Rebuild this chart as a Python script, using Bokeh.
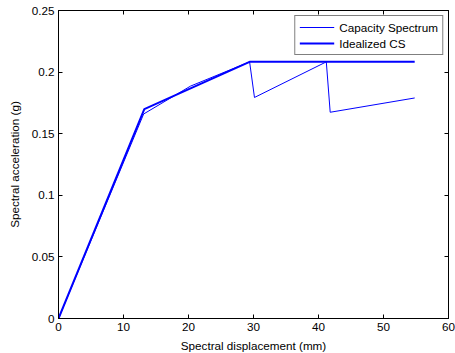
from bokeh.plotting import figure
from bokeh.models import LinearAxis, FixedTicker, Range1d, Legend, LegendItem, CustomJSTickFormatter
from bokeh.embed import file_html
from bokeh.resources import INLINE

cs_x = [0, 13.1, 20.3, 29.4, 30.15, 41.2, 41.8, 54.8]
cs_y = [0, 0.166, 0.1886, 0.2083, 0.1794, 0.2083, 0.1674, 0.179]
id_x = [0, 13.2, 29.4, 54.8]
id_y = [0, 0.170, 0.2083, 0.2083]

x_ticks = [0, 10, 20, 30, 40, 50, 60]
y_ticks = [0, 0.05, 0.1, 0.15, 0.2, 0.25]
y_tick_labels = ["0", "0.05", "0.1", "0.15", "0.2", "0.25"]

FONT = "Liberation Sans"
FS = "11.7px"

p = figure(width=455, height=353, frame_width=390, frame_height=308,
           output_backend="svg", toolbar_location=None,
           x_range=Range1d(0, 60), y_range=Range1d(0, 0.25),
           x_axis_label="Spectral displacement (mm)",
           y_axis_label="Spectral acceleration (g)",
           min_border_left=58, min_border_right=7, min_border_top=10, min_border_bottom=35)
p.xgrid.visible = False
p.ygrid.visible = False
p.outline_line_color = "black"
p.outline_line_width = 1

r1 = p.line(cs_x, cs_y, line_color="#0000FF", line_width=1)
r2 = p.line(id_x, id_y, line_color="#0000FF", line_width=2)

for ax in (p.xaxis[0], p.yaxis[0]):
    ax.major_tick_in = 4
    ax.major_tick_out = 0
    ax.minor_tick_in = 0
    ax.minor_tick_out = 0
    ax.axis_line_color = "black"
    ax.major_label_text_font = FONT
    ax.major_label_text_font_size = FS
    ax.major_label_text_color = "black"
    ax.axis_label_text_font = FONT
    ax.axis_label_text_font_size = FS
    ax.axis_label_text_font_style = "normal"
    ax.axis_label_text_color = "black"

p.xaxis[0].ticker = FixedTicker(ticks=x_ticks)
p.yaxis[0].ticker = FixedTicker(ticks=y_ticks)
p.yaxis[0].major_label_overrides = {t: l for t, l in zip(y_ticks, y_tick_labels)}
p.xaxis[0].major_label_standoff = 4
p.xaxis[0].axis_label_standoff = 5
p.yaxis[0].major_label_standoff = 4
p.yaxis[0].axis_label_standoff = 8

top = LinearAxis(ticker=FixedTicker(ticks=x_ticks), formatter=CustomJSTickFormatter(code="return '';"),
                 major_tick_in=4, major_tick_out=0, minor_tick_in=0, minor_tick_out=0,
                 axis_line_color="black", major_label_standoff=0)
right = LinearAxis(ticker=FixedTicker(ticks=y_ticks), formatter=CustomJSTickFormatter(code="return '';"),
                   major_tick_in=4, major_tick_out=0, minor_tick_in=0, minor_tick_out=0,
                   axis_line_color="black", major_label_standoff=0)
p.add_layout(top, "above")
p.add_layout(right, "right")

legend = Legend(items=[LegendItem(label="Capacity Spectrum", renderers=[r1]),
                       LegendItem(label="Idealized CS", renderers=[r2])],
                location="top_right", margin=5,
                border_line_color="black", border_line_width=1,
                label_text_font=FONT, label_text_font_size=FS,
                label_text_color="black",
                glyph_width=35, glyph_height=14, label_height=14,
                spacing=2, padding=4, label_standoff=5)
p.add_layout(legend, "center")

open("out.html", "w").write(file_html(p, INLINE))
